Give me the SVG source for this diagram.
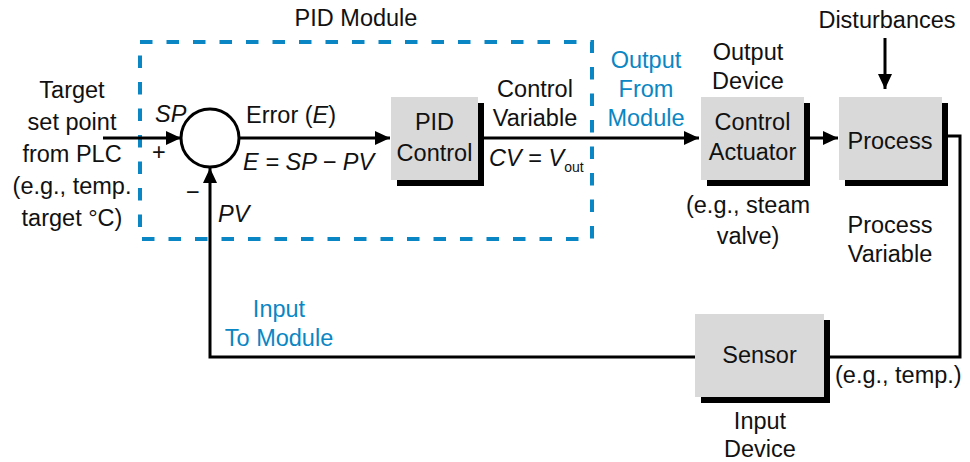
<svg xmlns="http://www.w3.org/2000/svg" width="970" height="462" viewBox="0 0 970 462">
<style>
text{font-family:"Liberation Sans",Arial,sans-serif;font-size:23.5px;fill:#111}
.c{text-anchor:middle}
.i{font-style:italic}
.b{fill:#0a86c4}
.box{fill:#d9d9d9}
.sh{fill:#000}
.ln{fill:none;stroke:#000;stroke-width:3}
</style>
<defs>
<marker id="ar" markerUnits="userSpaceOnUse" markerWidth="16" markerHeight="14" refX="15" refY="7" orient="auto">
<path d="M0,0 L15,7 L0,14 z" fill="#000"/>
</marker>
</defs>
<rect width="970" height="462" fill="#fff"/>
<g id="pid-module">
<rect x="140" y="42" width="452" height="197" fill="none" stroke="#0a86c4" stroke-width="4" stroke-dasharray="12.5 14"/>
<text class="c" x="356" y="26">PID Module</text>
</g>
<g id="connectors">
<line class="ln" x1="103" y1="138" x2="181" y2="138" marker-end="url(#ar)"/>
<line class="ln" x1="240" y1="138" x2="390" y2="138" marker-end="url(#ar)"/>
<line class="ln" x1="484" y1="138" x2="699" y2="138" marker-end="url(#ar)"/>
<line class="ln" x1="809" y1="138" x2="838" y2="138" marker-end="url(#ar)"/>
<line class="ln" x1="885" y1="38" x2="885" y2="89" marker-end="url(#ar)"/>
<polyline class="ln" points="947,136 960,136 960,357 829,357"/>
<polyline class="ln" points="695,357 210,357 210,168" marker-end="url(#ar)"/>
</g>
<g id="target">
<text class="c" x="72" y="98">Target</text>
<text class="c" x="72" y="130">set point</text>
<text class="c" x="72" y="162">from PLC</text>
<text class="c" x="72" y="194">(e.g., temp.</text>
<text class="c" x="72" y="226">target °C)</text>
</g>
<g id="summing">
<circle cx="210" cy="138" r="29" fill="#fff" stroke="#000" stroke-width="3"/>
<text class="i" x="155" y="122">SP</text>
<text x="152" y="160">+</text>
<text x="186" y="200">−</text>
<text class="i" x="218" y="222">PV</text>
<text x="246" y="123">Error (<tspan class="i">E</tspan>)</text>
<text class="i" x="243" y="170">E = SP − PV</text>
</g>
<g id="pid-control">
<rect class="sh" x="397" y="103" width="87" height="83"/>
<rect class="box" x="391" y="97" width="87" height="83"/>
<text class="c" x="434.5" y="130">PID</text>
<text class="c" x="434.5" y="161">Control</text>
</g>
<g id="cv">
<text class="c" x="535" y="97">Control</text>
<text class="c" x="535" y="126">Variable</text>
<text x="489" y="166"><tspan class="i">CV</tspan> = <tspan class="i">V</tspan><tspan font-size="14" dy="6">out</tspan></text>
</g>
<g id="output-from">
<text class="c b" x="646" y="68">Output</text>
<text class="c b" x="646" y="97">From</text>
<text class="c b" x="646" y="126">Module</text>
</g>
<g id="actuator">
<text class="c" x="748" y="60">Output</text>
<text class="c" x="748" y="89">Device</text>
<rect class="sh" x="707" y="103" width="103" height="83"/>
<rect class="box" x="701" y="97" width="103" height="83"/>
<text class="c" x="752.5" y="130">Control</text>
<text class="c" x="752.5" y="160">Actuator</text>
<text class="c" x="748" y="213">(e.g., steam</text>
<text class="c" x="748" y="244">valve)</text>
</g>
<g id="process">
<text class="c" x="887" y="28">Disturbances</text>
<rect class="sh" x="845" y="103" width="103" height="83"/>
<rect class="box" x="839" y="97" width="103" height="83"/>
<text class="c" x="890" y="149">Process</text>
<text class="c" x="890" y="233">Process</text>
<text class="c" x="890" y="262">Variable</text>
</g>
<g id="sensor">
<rect class="sh" x="701" y="320" width="129" height="83"/>
<rect class="box" x="695" y="314" width="129" height="83"/>
<text class="c" x="759.5" y="363">Sensor</text>
<text x="835" y="383">(e.g., temp.)</text>
<text class="c" x="760" y="429">Input</text>
<text class="c" x="760" y="457">Device</text>
</g>
<g id="input-to">
<text class="c b" x="279" y="317">Input</text>
<text class="c b" x="279" y="346">To Module</text>
</g>
</svg>
